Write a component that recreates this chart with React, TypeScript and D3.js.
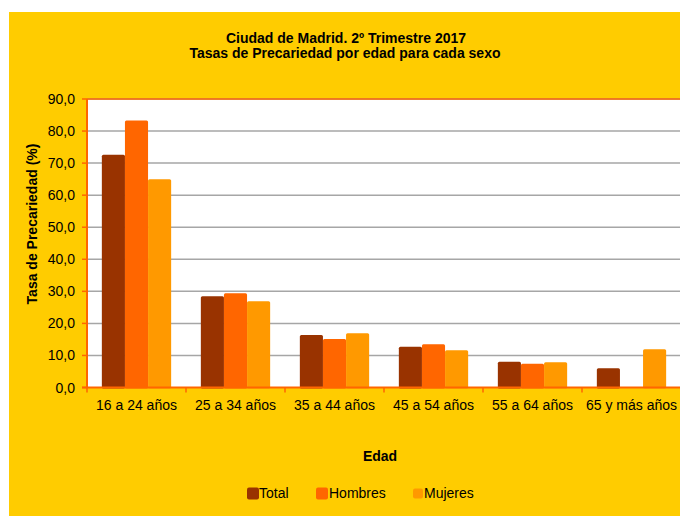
import React from "react";
import * as d3 from "d3";

const categories = ["16 a 24 años", "25 a 34 años", "35 a 44 años", "45 a 54 años", "55 a 64 años", "65 y más años"];
const seriesNames = ["Total", "Hombres", "Mujeres"];
const totalValues = [72.6, 28.5, 16.4, 12.7, 8.0, 6.0];
const hombresValues: (number | null)[] = [83.3, 29.4, 15.1, 13.5, 7.4, null];
const mujeresValues = [65.0, 26.9, 16.9, 11.6, 7.9, 11.9];
const yTicks = [0, 10, 20, 30, 40, 50, 60, 70, 80, 90];
const colors = ["#993300", "#FF6600", "#FF9900"];

const W = 680;
const H = 516;
const M = { left: 87, top: 99, right: 681, bottom: 387.5 };
const FONT = "'Liberation Sans', Arial, sans-serif";

export default function App() {
  const series = [totalValues, hombresValues, mujeresValues];
  const x = d3.scaleBand<string>().domain(categories).range([M.left, M.right]).paddingInner(0.3).paddingOuter(0.15);
  const xOuter = d3.scaleBand<string>().domain(categories).range([M.left, M.right]);
  const xs = d3.scaleBand<string>().domain(seriesNames).range([0, x.bandwidth()]);
  const y = d3.scaleLinear().domain([0, 90]).range([M.bottom, M.top]);
  const fmt = (v: number) => v.toFixed(1).replace(".", ",");

  return (
    <svg width={W} height={H} style={{ position: "absolute", left: 0, top: 0 }} fontFamily={FONT}>
      <rect x={0} y={0} width={W} height={H} fill="#ffffff" />
      <rect x={9} y={12} width={W - 9} height={H - 12} fill="#FFCC00" />
      <text x={346} y={43} textAnchor="middle" fontWeight="bold" fontSize={14} fill="#000">
        Ciudad de Madrid. 2º Trimestre 2017
      </text>
      <text x={345} y={58} textAnchor="middle" fontWeight="bold" fontSize={14} fill="#000">
        Tasas de Precariedad por edad para cada sexo
      </text>
      <rect x={M.left} y={M.top} width={M.right - M.left} height={M.bottom - M.top} fill="#ffffff" />
      {yTicks.filter((t) => t > 0).map((t) => (
        <line key={t} x1={M.left} x2={M.right} y1={y(t)} y2={y(t)} stroke="#A6A6A6" strokeWidth={1.5} />
      ))}
      {yTicks.map((t) => (
        <g key={"yt" + t}>
          <line x1={M.left - 5} x2={M.left} y1={y(t)} y2={y(t)} stroke="#FF6600" strokeWidth={1.5} />
          <text x={75} y={y(t) + 5} textAnchor="end" fontSize={14} fill="#000">
            {fmt(t)}
          </text>
        </g>
      ))}
      {categories.map((c, i) => (
        <g key={c}>
          {series.map((vals, s) => {
            const v = vals[i];
            if (v == null) return null;
            const bx = (x(c) as number) + (xs(seriesNames[s]) as number);
            return (
              <rect
                key={s}
                x={bx}
                y={y(v)}
                width={xs.bandwidth()}
                height={M.bottom - y(v) + 1}
                fill={colors[s]}
                rx={1.5}
              />
            );
          })}
          <text x={(xOuter(c) as number) + xOuter.bandwidth() / 2} y={410} textAnchor="middle" fontSize={14} fill="#000">
            {c}
          </text>
        </g>
      ))}
      {categories.map((c) => (
        <line key={"xt" + c} x1={xOuter(c) as number} x2={xOuter(c) as number} y1={M.bottom} y2={M.bottom + 5} stroke="#FF6600" strokeWidth={1.5} />
      ))}
      <line x1={M.left} x2={M.right} y1={M.top} y2={M.top} stroke="#FF6600" strokeWidth={1.5} />
      <line x1={M.left} x2={M.left} y1={M.top} y2={M.bottom} stroke="#FF6600" strokeWidth={2} />
      <line x1={M.left - 5} x2={M.right} y1={M.bottom} y2={M.bottom} stroke="#FF6600" strokeWidth={2} />
      <text transform={`translate(37,224) rotate(-90)`} textAnchor="middle" fontWeight="bold" fontSize={14} fill="#000">
        Tasa de Precariedad (%)
      </text>
      <text x={380} y={461} textAnchor="middle" fontWeight="bold" fontSize={14} fill="#000">
        Edad
      </text>
      {[
        { name: "Total", sx: 247, tx: 259, size: 12 },
        { name: "Hombres", sx: 316, tx: 329, size: 12 },
        { name: "Mujeres", sx: 413, tx: 424, size: 10 },
      ].map((l, i) => (
        <g key={l.name}>
          <rect x={l.sx} y={493.5 - l.size / 2} width={l.size} height={l.size} rx={2} fill={colors[i]} />
          <text x={l.tx} y={498} fontSize={14} fill="#000">
            {l.name}
          </text>
        </g>
      ))}
    </svg>
  );
}
